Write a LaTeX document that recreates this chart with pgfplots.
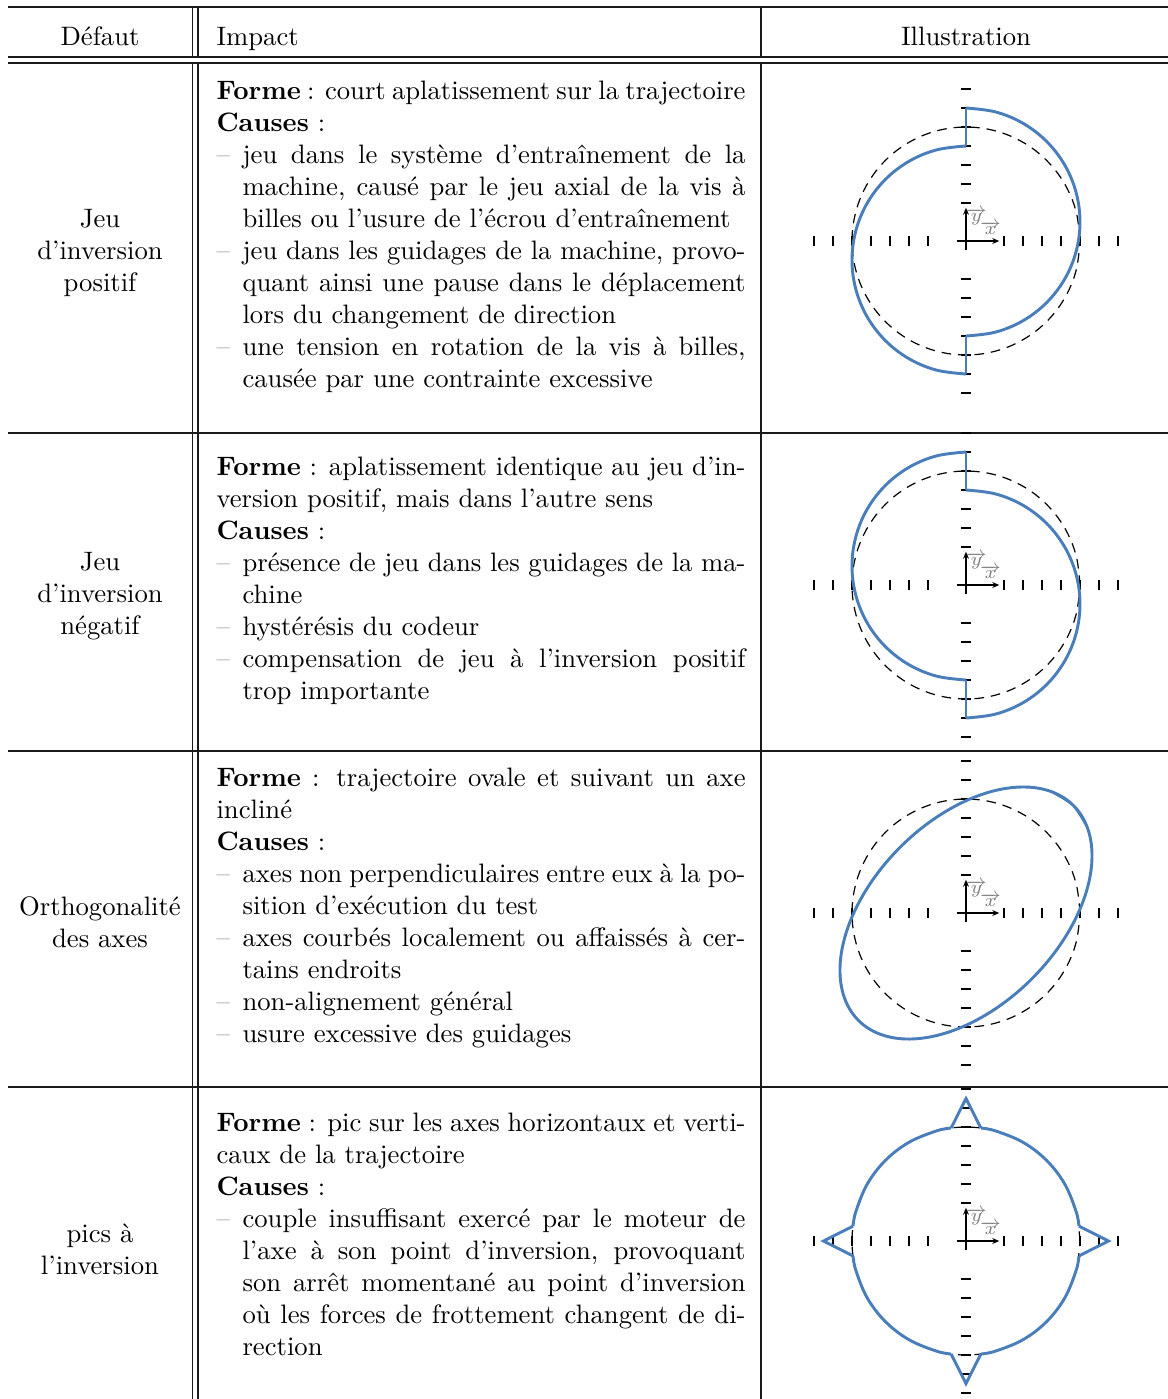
\documentclass[border=0pt]{standalone}
\usepackage{pgfplots}
\pgfplotsset{compat=1.18}
\usetikzlibrary{arrows.meta}
\definecolor{trace}{HTML}{4A7EBB}
\definecolor{rule}{HTML}{1A1A1A}

% one text line, justified to the column / set at natural width
\newcommand\jl[1]{\hbox to 198.4pt{#1}}
\newcommand\nl[1]{\hbox{#1}}
\newcommand\dd{\hbox to 9.75pt{\textcolor{gray}{–}\hfil}}
\newcommand\ii{\hskip 9.75pt}

\pgfplotsset{
  illu/.style={
    anchor=origin, x=7.125pt, y=7.125pt,
    xmin=-8.6, xmax=8.6, ymin=-8.6, ymax=8.6,
    axis lines=center, axis line style={draw=none},
    xtick={-8,-7,-6,-5,-4,-3,-2,2,3,4,5,6,7,8},
    ytick={-8,-7,-6,-5,-4,-3,-2,2,3,4,5,6,7,8},
    xticklabels={}, yticklabels={},
    tick align=center, major tick length=3.75pt,
    tick style={black, line width=0.4pt},
    clip=false,
  },
  refline/.style={black, line width=0.45pt, dash pattern=on 3.6pt off 2.6pt, smooth, tension=0.61},
  traceline/.style={trace, line width=1.1pt},
  arc/.style={traceline, smooth, tension=0.61},
}

\newcommand\refcircle{%
  \addplot[refline] coordinates {
    (6,0) (5.7956,1.5529) (5.1962,3) (4.2426,4.2426) (3,5.1962) (1.5529,5.7956)
    (0,6) (-1.5529,5.7956) (-3,5.1962) (-4.2426,4.2426) (-5.1962,3) (-5.7956,1.5529)
    (-6,0) (-5.7956,-1.5529) (-5.1962,-3) (-4.2426,-4.2426) (-3,-5.1962) (-1.5529,-5.7956)
    (0,-6) (1.5529,-5.7956) (3,-5.1962) (4.2426,-4.2426) (5.1962,-3) (5.7956,-1.5529) (6,0)};
}
\newcommand\axesframe{%
  \addplot[black, line width=0.45pt, mark=+, mark size=3.4pt, only marks] coordinates {(0,0)};
  \addplot[black, line width=0.45pt, -{Stealth[length=2.6pt,width=2.2pt]}] coordinates {(0.47,0) (1.75,0)};
  \addplot[black, line width=0.45pt, -{Stealth[length=2.6pt,width=2.2pt]}] coordinates {(0,0.47) (0,1.75)};
  \node[text=gray, font=\scriptsize, inner sep=0pt] at (axis cs:0.55,1.27) {$\overrightarrow{y}$};
  \node[text=gray, font=\scriptsize, inner sep=0pt] at (axis cs:1.3,0.68) {$\overrightarrow{x}$};
}

\begin{document}
\begin{tikzpicture}
\useasboundingbox (0,0) rectangle (438pt,-524.625pt);
\begin{scope}[x=0.375pt, y=-0.375pt]

% rules
\begin{scope}[rule, line width=0.6pt]
\draw (8,7) -- (1168,7);
\draw (8,57) -- (1168,57);
\draw (8,63) -- (1168,63);
\draw (8,433) -- (1168,433);
\draw (8,751) -- (1168,751);
\draw (8,1087) -- (1168,1087);
\draw (192.3,7) -- (192.3,57) (197.8,7) -- (197.8,57) (761,7) -- (761,57);
\draw (192.3,63) -- (192.3,1399) (197.8,63) -- (197.8,1399) (761,63) -- (761,1399);
\end{scope}

% header
\node[anchor=base, inner sep=0pt] at (100,45) {Défaut};
\node[anchor=base west, inner sep=0pt] at (216,45) {Impact};
\node[anchor=base, inner sep=0pt] at (966,45) {Illustration};

% first column
\node[align=center, inner sep=0pt] at (100,253) {Jeu\\d’inversion\\positif};
\node[align=center, inner sep=0pt] at (100,596) {Jeu\\d’inversion\\négatif};
\node[align=center, inner sep=0pt] at (100,922) {Orthogonalité\\des axes};
\node[align=center, inner sep=0pt] at (100,1249) {pics à\\l’inversion};

% second column
\node[anchor=base west, inner sep=0pt] at (216,99) {\vtop{\baselineskip=12pt
  \jl{\textbf{Forme}~: court aplatissement sur la trajectoire}
  \nl{\textbf{Causes}~:}
  \jl{\dd jeu dans le système d’entraînement de la}
  \jl{\ii machine, causé par le jeu axial de la vis à}
  \nl{\ii billes ou l’usure de l’écrou d’entraînement}
  \jl{\dd jeu dans les guidages de la machine, provo-}
  \jl{\ii quant ainsi une pause dans le déplacement}
  \nl{\ii lors du changement de direction}
  \jl{\dd une tension en rotation de la vis à billes,}
  \nl{\ii causée par une contrainte excessive}}};

\node[anchor=base west, inner sep=0pt] at (216,475) {\vtop{\baselineskip=12pt
  \jl{\textbf{Forme}~: aplatissement identique au jeu d’in-}
  \nl{version positif, mais dans l’autre sens}
  \nl{\textbf{Causes}~:}
  \jl{\dd présence de jeu dans les guidages de la ma-}
  \nl{\ii chine}
  \nl{\dd hystérésis du codeur}
  \jl{\dd compensation de jeu à l’inversion positif}
  \nl{\ii trop importante}}};

\node[anchor=base west, inner sep=0pt] at (216,786) {\vtop{\baselineskip=12pt
  \jl{\textbf{Forme}~: trajectoire ovale et suivant un axe}
  \nl{incliné}
  \nl{\textbf{Causes}~:}
  \jl{\dd axes non perpendiculaires entre eux à la po-}
  \nl{\ii sition d’exécution du test}
  \jl{\dd axes courbés localement ou affaissés à cer-}
  \nl{\ii tains endroits}
  \nl{\dd non-alignement général}
  \nl{\dd usure excessive des guidages}}};

\node[anchor=base west, inner sep=0pt] at (216,1131) {\vtop{\baselineskip=12pt
  \jl{\textbf{Forme}~: pic sur les axes horizontaux et verti-}
  \nl{caux de la trajectoire}
  \nl{\textbf{Causes}~:}
  \jl{\dd couple insuffisant exercé par le moteur de}
  \jl{\ii l’axe à son point d’inversion, provoquant}
  \jl{\ii son arrêt momentané au point d’inversion}
  \jl{\ii où les forces de frottement changent de di-}
  \nl{\ii rection}}};
\end{scope}

% positive backlash
\begin{axis}[illu, at={(362.25pt,-90.375pt)}]
\refcircle
\addplot[arc] coordinates {
  (0,7) (1.5529,6.7956) (3,6.1962) (4.2426,5.2426) (5.1962,4) (5.7956,2.5529) (6,1)
  (5.7956,-0.5529) (5.1962,-2) (4.2426,-3.2426) (3,-4.1962) (1.5529,-4.7956) (0,-5)};
\addplot[arc] coordinates {
  (0,-7) (-1.5529,-6.7956) (-3,-6.1962) (-4.2426,-5.2426) (-5.1962,-4) (-5.7956,-2.5529) (-6,-1)
  (-5.7956,0.5529) (-5.1962,2) (-4.2426,3.2426) (-3,4.1962) (-1.5529,4.7956) (0,5)};
\addplot[traceline] coordinates {(0,-5) (0,-7)};
\addplot[traceline] coordinates {(0,5) (0,7)};
\axesframe
\end{axis}

% negative backlash
\begin{axis}[illu, at={(362.25pt,-219.375pt)}]
\refcircle
\addplot[arc] coordinates {
  (0,7) (-1.5529,6.7956) (-3,6.1962) (-4.2426,5.2426) (-5.1962,4) (-5.7956,2.5529) (-6,1)
  (-5.7956,-0.5529) (-5.1962,-2) (-4.2426,-3.2426) (-3,-4.1962) (-1.5529,-4.7956) (0,-5)};
\addplot[arc] coordinates {
  (0,-7) (1.5529,-6.7956) (3,-6.1962) (4.2426,-5.2426) (5.1962,-4) (5.7956,-2.5529) (6,-1)
  (5.7956,0.5529) (5.1962,2) (4.2426,3.2426) (3,4.1962) (1.5529,4.7956) (0,5)};
\addplot[traceline] coordinates {(0,-5) (0,-7)};
\addplot[traceline] coordinates {(0,5) (0,7)};
\axesframe
\end{axis}

% squareness
\begin{axis}[illu, at={(362.25pt,-342.375pt)}]
\refcircle
\addplot[arc] coordinates {
  (6.3607,4.5673)
  (5.6569,5.6569) (4.5673,6.3607) (3.1666,6.6314) (1.5500,6.4500) (-0.1722,5.8290)
  (-1.8827,4.8107) (-3.4648,3.4648) (-4.8107,1.8827) (-5.8290,0.1722) (-6.4500,-1.5500)
  (-6.6314,-3.1666) (-6.3607,-4.5673) (-5.6569,-5.6569) (-4.5673,-6.3607) (-3.1666,-6.6314)
  (-1.5500,-6.4500) (0.1722,-5.8290) (1.8827,-4.8107) (3.4648,-3.4648) (4.8107,-1.8827)
  (5.8290,-0.1722) (6.4500,1.5500) (6.6314,3.1666) (6.3607,4.5673) (5.6569,5.6569)
  (4.5673,6.3607)};
\axesframe
\end{axis}

% reversal spikes
\begin{axis}[illu, at={(362.25pt,-465.375pt)}]
\refcircle
\addplot[arc] coordinates {
  (0.783,5.9487) (1.5529,5.7956) (3,5.1962) (4.2426,4.2426) (5.1962,3) (5.7956,1.5529) (5.9487,0.783)};
\addplot[arc] coordinates {
  (5.9487,-0.783) (5.7956,-1.5529) (5.1962,-3) (4.2426,-4.2426) (3,-5.1962) (1.5529,-5.7956) (0.783,-5.9487)};
\addplot[arc] coordinates {
  (-0.783,-5.9487) (-1.5529,-5.7956) (-3,-5.1962) (-4.2426,-4.2426) (-5.1962,-3) (-5.7956,-1.5529) (-5.9487,-0.783)};
\addplot[arc] coordinates {
  (-5.9487,0.783) (-5.7956,1.5529) (-5.1962,3) (-4.2426,4.2426) (-3,5.1962) (-1.5529,5.7956) (-0.783,5.9487)};
\addplot[traceline] coordinates {(5.9487,0.783) (7.5,0) (5.9487,-0.783)};
\addplot[traceline] coordinates {(0.783,-5.9487) (0,-7.5) (-0.783,-5.9487)};
\addplot[traceline] coordinates {(-5.9487,-0.783) (-7.5,0) (-5.9487,0.783)};
\addplot[traceline] coordinates {(-0.783,5.9487) (0,7.5) (0.783,5.9487)};
\axesframe
\end{axis}
\end{tikzpicture}
\end{document}
